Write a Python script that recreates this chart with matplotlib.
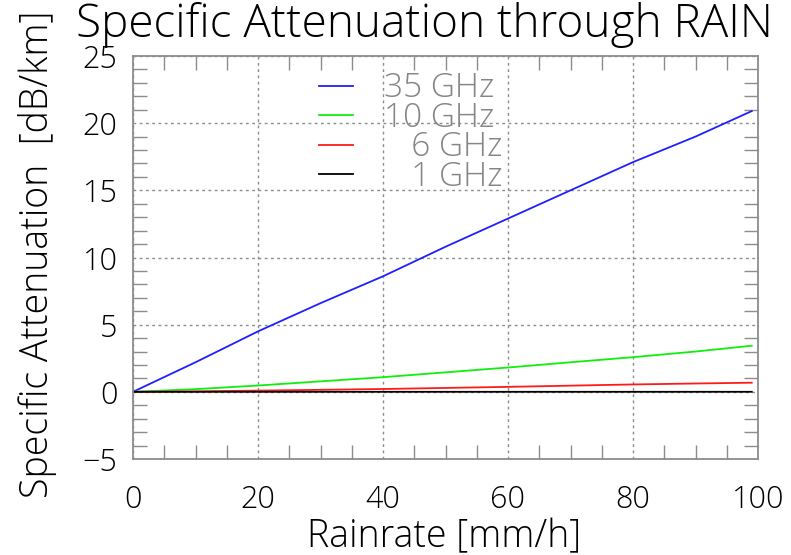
import numpy as np
import matplotlib.pyplot as plt
from matplotlib.ticker import MultipleLocator
from matplotlib.lines import Line2D

# rain rate [mm/h] and specific attenuation [dB/km]
rainrate = [0, 10, 20, 30, 40, 50, 60, 70, 80, 90, 99]
att_35 = [0.0, 2.2, 4.5, 6.6, 8.6, 10.8, 12.9, 15.0, 17.1, 19.0, 20.9]
att_10 = [0.0, 0.2, 0.47, 0.78, 1.09, 1.45, 1.81, 2.2, 2.58, 3.0, 3.43]
att_6 = [0.0, 0.04, 0.09, 0.15, 0.21, 0.29, 0.37, 0.46, 0.55, 0.62, 0.68]
att_1 = [0.0, 0.0003, 0.0006, 0.0009, 0.0012, 0.0014, 0.0017, 0.0019, 0.0022, 0.0024, 0.0026]

series = [
    ('35 GHz', att_35, '#1f1fff'),
    ('10 GHz', att_10, '#10ee10'),
    ('\u2007 6 GHz', att_6, '#ff1a1a'),
    ('\u2007 1 GHz', att_1, '#000000'),
]

plt.rcParams['font.family'] = ['Open Sans', 'DejaVu Sans']
plt.rcParams['font.weight'] = 300

fig = plt.figure(figsize=(7.91, 5.55), dpi=100)
ax = fig.add_axes([133/791, 1-459/555, (758-133)/791, (459-56)/555])

for name, vals, col in series:
    ax.plot(rainrate, vals, color=col, lw=1.3)

ax.set_xlim(0, 100)
ax.set_ylim(-5, 25)
ax.xaxis.set_major_locator(MultipleLocator(20))
ax.xaxis.set_minor_locator(MultipleLocator(5))
ax.yaxis.set_major_locator(MultipleLocator(5))
ax.yaxis.set_minor_locator(MultipleLocator(1))

frame_col = '#8c8c8c'
for s in ax.spines.values():
    s.set_color(frame_col)
    s.set_linewidth(1.3)
ax.tick_params(which='major', length=0, labelsize=22, pad=11, labelcolor='black')
ax.tick_params(axis='x', which='major', pad=18)
ax.tick_params(which='minor', direction='in', length=10, width=1,
               color=frame_col, top=True, right=True)
ax.grid(True, which='major', color='#8c8c8c', linestyle=(0, (2, 2.5)), lw=1)
ax.set_axisbelow(True)

handles = [Line2D([], [], color=c, lw=1.3) for _, _, c in series]
labels = [n for n, _, _ in series]
leg = ax.legend(handles, labels, loc='upper left', bbox_to_anchor=(0.25, 1.035),
                frameon=False, fontsize=24, handlelength=1.0, handletextpad=0.95,
                labelspacing=-0.12, labelcolor='#858585')

fig.text(424/791, 1-37/555, 'Specific Attenuation through RAIN', ha='center', va='baseline',
         fontsize=33)
fig.text(38/791, 1-254/555, 'Specific Attenuation  [dB/km]', rotation=90, ha='center',
         va='center', fontsize=27)
fig.text(444/791, 1-547/555, 'Rainrate [mm/h]', ha='center', va='baseline', fontsize=27)

fig.savefig('out.png', dpi=100)
